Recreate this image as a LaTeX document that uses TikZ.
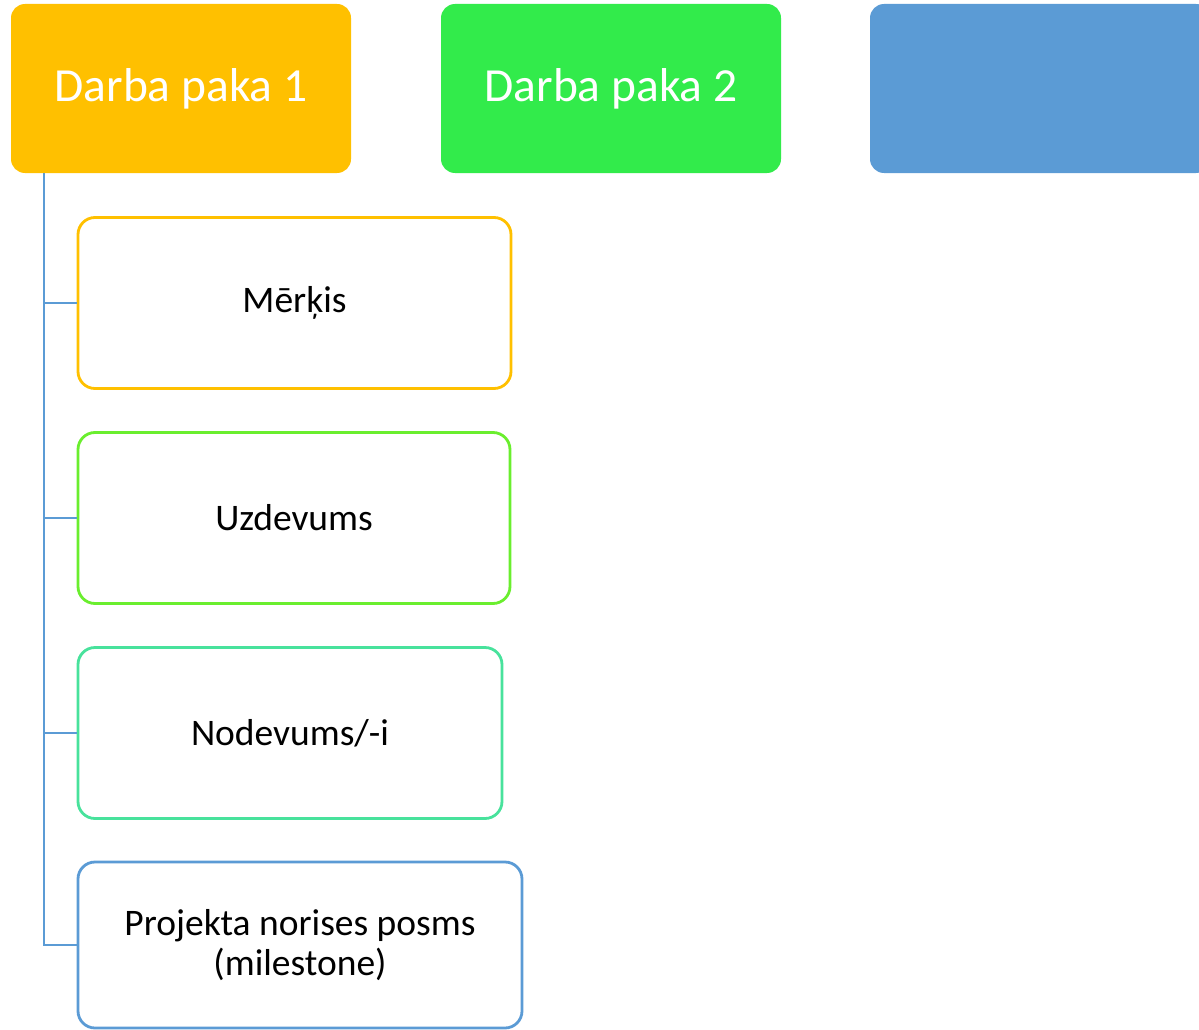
\documentclass[tikz,border=0pt]{standalone}
\usepackage{fontspec}
\setmainfont{Carlito}
\definecolor{wpOrange}{HTML}{FFC000}
\definecolor{wpGreen}{HTML}{32EB4B}
\definecolor{wpBlue}{HTML}{5B9BD5}
\definecolor{chLime}{HTML}{6AEE2E}
\definecolor{chTeal}{HTML}{48E29C}
\begin{document}
\begin{tikzpicture}[x=1pt,y=-1pt,
  wpbox/.style={rectangle, rounded corners=14pt, draw=none, inner sep=0pt,
    minimum width=340pt, minimum height=169pt, text=white,
    font=\fontsize{47.5}{56}\selectfont},
  chbox/.style={rectangle, rounded corners=17pt, line width=2.8pt, fill=white,
    inner sep=0pt, minimum height=171pt, text=black, align=center,
    font=\fontsize{37.5}{40}\selectfont},
  conn/.style={draw=wpBlue, line width=2.8pt}]
\useasboundingbox (0,0) rectangle (1199,1030);
\clip (0,0) rectangle (1199,1030);
\node[wpbox, fill=wpOrange] (p1) at (181,88.5) {Darba paka 1};
\node[wpbox, fill=wpGreen] (p2) at (611,88.5) {Darba paka 2};
\node[wpbox, fill=wpBlue] (p3) at (1040,88.5) {};
\node[chbox, draw=wpOrange, minimum width=433pt] (c1) at (294.5,303) {Mērķis};
\node[chbox, draw=chLime, minimum width=432pt] (c2) at (294,518) {Uzdevums};
\node[chbox, draw=chTeal, minimum width=424pt] (c3) at (290,733) {Nodevums/-i};
\node[chbox, draw=wpBlue, minimum width=444pt, minimum height=166pt] (c4) at (300,945) {Projekta norises posms\\(milestone)};
\coordinate (trunk) at (44,173);
\draw[conn] (trunk) |- (c4.west);
\foreach \c in {c1,c2,c3} {\draw[conn] (trunk |- \c.west) -- (\c.west);}
\end{tikzpicture}
\end{document}
